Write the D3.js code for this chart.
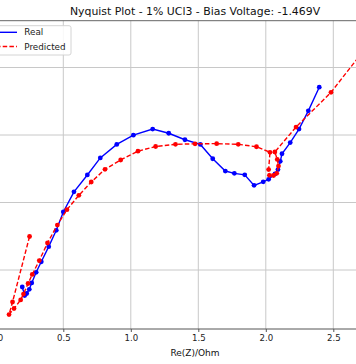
<!DOCTYPE html>
<html><head><meta charset="utf-8">
<script src="https://cdn.jsdelivr.net/npm/d3@7"></script>
<style>body{margin:0;background:#fff}svg{display:block}</style>
</head><body>
<script>
const realX = [0.196,0.214,0.229,0.248,0.266,0.299,0.337,0.392,0.448,0.500,0.579,0.678,0.774,0.896,1.019,1.162,1.281,1.401,1.515,1.607,1.700,1.767,1.844,1.913,1.981,2.021,2.068,2.090,2.107,2.120,2.181,2.246,2.315,2.396];
const realY = [0.374,0.311,0.326,0.357,0.404,0.483,0.561,0.673,0.794,0.930,1.079,1.204,1.330,1.430,1.499,1.544,1.513,1.465,1.430,1.324,1.233,1.216,1.205,1.127,1.153,1.172,1.211,1.244,1.305,1.361,1.444,1.544,1.679,1.854];
const predX = [0.250,0.124,0.098,0.135,0.184,0.205,0.239,0.270,0.322,0.383,0.456,0.527,0.615,0.707,0.809,0.925,1.053,1.184,1.331,1.476,1.636,1.796,1.931,2.031,2.021,2.027,2.057,2.081,2.094,2.085,2.067,2.224,2.483,2.757];
const predY = [0.748,0.263,0.170,0.215,0.278,0.322,0.400,0.467,0.570,0.700,0.833,0.947,1.053,1.152,1.246,1.315,1.380,1.415,1.431,1.435,1.436,1.431,1.413,1.372,1.244,1.201,1.200,1.216,1.270,1.319,1.374,1.559,1.816,2.167];
const xTicks = [0.0,0.5,1.0,1.5,2.0,2.5];
const yTicks = [0.5,1.0,1.5,2.0];
const seriesNames = ["Real","Predicted"];
const titleText = "Nyquist Plot - 1% UCl3 - Bias Voltage: -1.469V";
const xLabel = "Re(Z)/Ohm";

const W = 356, H = 364;
const plotTop = 20.7, plotBottom = 329, plotLeft = -12, plotRight = 420;
const svg = d3.select("body").append("svg").attr("width", W).attr("height", H);
const x = d3.scaleLinear().domain([0, 2.5]).range([-4.2, 333.3]);
const y = d3.scaleLinear().domain([0, 2]).range([337.5, 67.5]);
const font = "DejaVu Sans, sans-serif";

svg.append("defs").append("clipPath").attr("id","clip")
  .append("rect").attr("x", plotLeft).attr("y", plotTop).attr("width", plotRight-plotLeft).attr("height", plotBottom-plotTop);

// grid
const grid = svg.append("g");
grid.selectAll(".vx").data(xTicks).join("line")
  .attr("x1", d=>x(d)).attr("x2", d=>x(d)).attr("y1", plotTop).attr("y2", plotBottom)
  .attr("stroke", "#c8c8c8").attr("stroke-width", 1);
grid.selectAll(".hy").data(yTicks).join("line")
  .attr("y1", d=>y(d)).attr("y2", d=>y(d)).attr("x1", plotLeft).attr("x2", plotRight)
  .attr("stroke", "#c8c8c8").attr("stroke-width", 1);

// top spine
svg.append("line").attr("x1", plotLeft).attr("x2", plotRight).attr("y1", plotTop).attr("y2", plotTop).attr("stroke","#555").attr("stroke-width",0.9);

// x axis
const xAxis = d3.axisBottom(x).tickValues(xTicks).tickFormat(d3.format(".1f")).tickSize(3).tickPadding(3);
const gx = svg.append("g").attr("transform", `translate(0,${plotBottom})`).call(xAxis);
gx.select(".domain").remove();
gx.append("line").attr("x1", plotLeft).attr("x2", plotRight).attr("stroke","#555").attr("stroke-width",1);
gx.selectAll(".tick line").attr("stroke","#555");
gx.selectAll("text").attr("font-family", font).attr("font-size", 8.6).attr("fill","#222");

// data
const plot = svg.append("g").attr("clip-path","url(#clip)");
const real = realX.map((d,i)=>[d, realY[i]]);
const pred = predX.map((d,i)=>[d, predY[i]]);
const line = d3.line().x(d=>x(d[0])).y(d=>y(d[1]));
plot.append("path").datum(real).attr("d", line).attr("fill","none").attr("stroke","#0000ff").attr("stroke-width",1.4);
plot.selectAll(".rp").data(real).join("circle").attr("cx", d=>x(d[0])).attr("cy", d=>y(d[1])).attr("r", 2.4).attr("fill","#0000ff");
plot.append("path").datum(pred).attr("d", line).attr("fill","none").attr("stroke","#ff0000").attr("stroke-width",1.4).attr("stroke-dasharray","4.5,2.2");
plot.selectAll(".pp").data(pred).join("circle").attr("cx", d=>x(d[0])).attr("cy", d=>y(d[1])).attr("r", 2.4).attr("fill","#ff0000");

// title & label
svg.append("text").attr("x", 195).attr("y", 14.8).attr("text-anchor","middle").attr("font-family", font).attr("font-size", 10.9).attr("fill","#111").text(titleText);
svg.append("text").attr("x", 195).attr("y", 356).attr("text-anchor","middle").attr("font-family", font).attr("font-size", 9).attr("fill","#111").text(xLabel);

// legend
const lg = svg.append("g");
lg.append("rect").attr("x", -10).attr("y", 25.7).attr("width", 81).attr("height", 29.3).attr("rx", 2)
  .attr("fill","#fff").attr("fill-opacity",0.85).attr("stroke","#cfcfcf").attr("stroke-width",0.9);
const lcol = ["#0000ff","#ff0000"], ldash = [null, "4.5,2.2"], ly = [32.3, 46.5];
seriesNames.forEach((n,i)=>{
  lg.append("line").attr("x1",-4).attr("x2",17).attr("y1",ly[i]).attr("y2",ly[i]).attr("stroke",lcol[i]).attr("stroke-width",1.4).attr("stroke-dasharray", ldash[i]);
  lg.append("text").attr("x",24.3).attr("y",ly[i]+3.1).attr("font-family",font).attr("font-size",8.8).attr("fill","#222").text(n);
});
</script>
</body></html>
